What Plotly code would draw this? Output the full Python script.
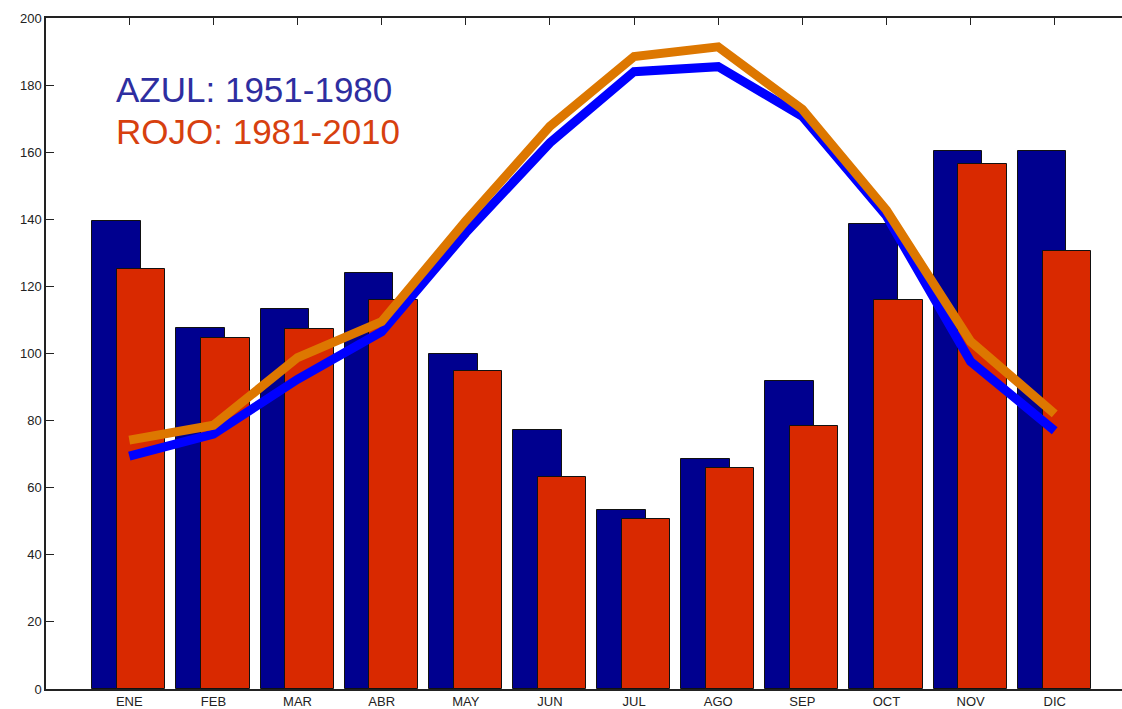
import plotly.graph_objects as go

months = ["ENE", "FEB", "MAR", "ABR", "MAY", "JUN", "JUL", "AGO", "SEP", "OCT", "NOV", "DIC"]
bars_1951_1980 = [139.5, 107.7, 113.4, 124.0, 100.0, 77.2, 53.4, 68.5, 91.7, 138.6, 160.5, 160.5]
bars_1981_2010 = [125.2, 104.7, 107.4, 116.0, 94.7, 63.2, 50.7, 65.9, 78.3, 116.0, 156.4, 130.6]
line_1951_1980 = [69.4, 76.0, 92.3, 106.5, 136.0, 162.8, 184.0, 185.5, 170.7, 141.0, 97.6, 77.0]
line_1981_2010 = [74.2, 78.6, 98.8, 109.5, 139.5, 167.7, 188.5, 191.4, 172.8, 142.7, 103.6, 82.0]
yticks = [0, 20, 40, 60, 80, 100, 120, 140, 160, 180, 200]

xs = list(range(len(months)))

fig = go.Figure()
fig.add_trace(go.Bar(x=xs, y=bars_1951_1980, offset=-0.44, width=0.58,
                     marker=dict(color="#00008F", line=dict(color="#111111", width=1))))
fig.add_trace(go.Bar(x=xs, y=bars_1981_2010, offset=-0.145, width=0.575,
                     marker=dict(color="#D92900", line=dict(color="#111111", width=1))))
fig.add_trace(go.Scatter(x=xs, y=line_1951_1980, mode="lines",
                         line=dict(color="#0000FF", width=9)))
fig.add_trace(go.Scatter(x=xs, y=line_1981_2010, mode="lines",
                         line=dict(color="#DD7700", width=9)))

fig.add_annotation(x=-0.18, y=178.7, xref="x", yref="y", text="AZUL: 1951-1980",
                   showarrow=False, xanchor="left", yanchor="middle",
                   font=dict(family="Liberation Sans, Arial", size=35, color="#2E2EA0"))
fig.add_annotation(x=-0.18, y=166.3, xref="x", yref="y", text="ROJO: 1981-2010",
                   showarrow=False, xanchor="left", yanchor="middle",
                   font=dict(family="Liberation Sans, Arial", size=35, color="#D7400F"))

fig.update_layout(
    width=1122, height=709,
    margin=dict(l=46, r=0, t=18, b=12),
    paper_bgcolor="white", plot_bgcolor="white",
    barmode="overlay", bargap=0,
    showlegend=False,
    font=dict(family="Liberation Sans, Arial", size=12, color="#222222"),
)
fig.update_xaxes(range=[-0.99, 11.8], tickvals=xs, ticktext=months,
                 showline=True, linecolor="#222222", linewidth=1.5, mirror="ticks",
                 ticks="inside", ticklen=7, tickcolor="#222222",
                 showgrid=False, zeroline=False, layer="below traces",
                 tickfont=dict(size=13))
fig.update_yaxes(range=[0, 200], tickvals=yticks,
                 showline=True, linecolor="#222222", linewidth=1.5, mirror=False,
                 ticks="inside", ticklen=8, tickcolor="#222222",
                 showgrid=False, zeroline=False, tickfont=dict(size=13))

fig.write_html("out.html", config={"displayModeBar": False},
               post_script="document.body.style.margin='0';document.body.style.overflow='hidden';")
